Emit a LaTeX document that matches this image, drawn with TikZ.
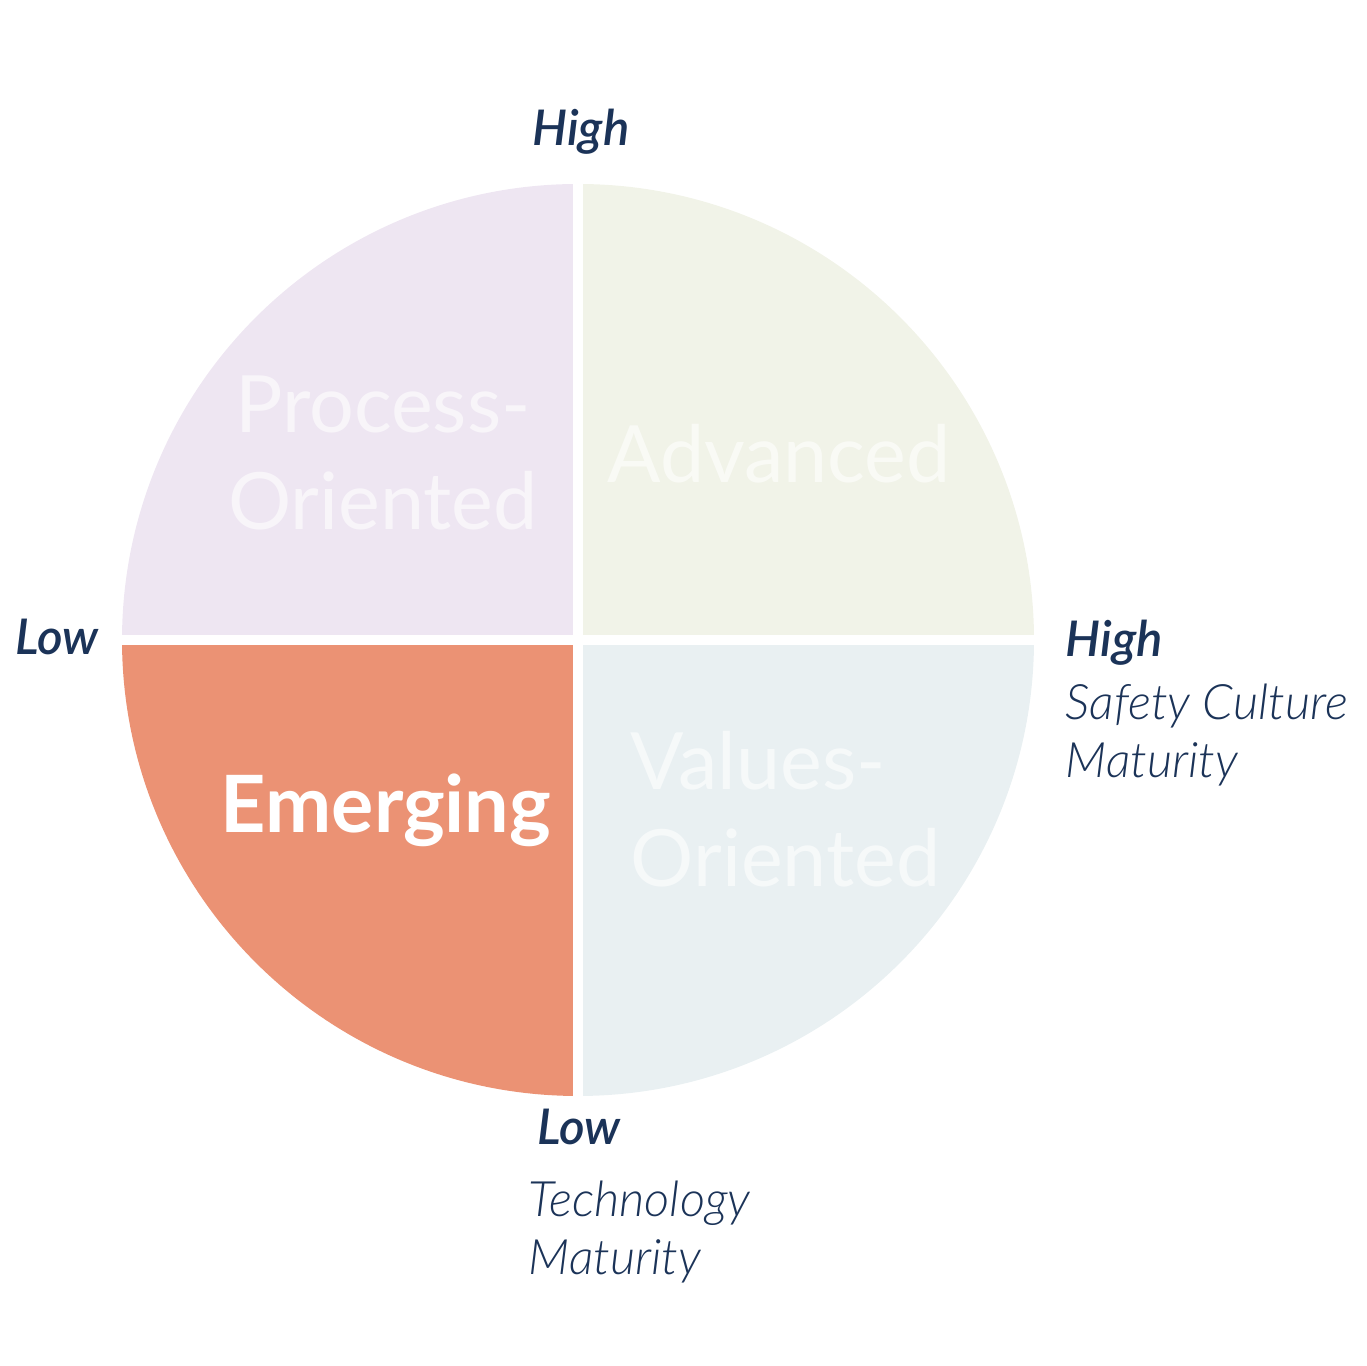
\documentclass[tikz,border=0pt]{standalone}
\usepackage{fontspec}
\setmainfont{Lato}
\newfontfamily\latolight{Lato Light}
\newfontfamily\latosemi{Lato Semibold}
\usepackage{tikz}
\usetikzlibrary{positioning}
\definecolor{navy}{HTML}{1B3358}
\definecolor{lavender}{HTML}{EEE6F2}
\definecolor{sage}{HTML}{F1F3E8}
\definecolor{mist}{HTML}{E9F0F2}
\definecolor{coral}{HTML}{EB9274}

\tikzset{
  axisbold/.style={text=navy,font=\latosemi\itshape\fontsize{14}{17}\selectfont,inner sep=0pt},
  axistitle/.style={text=navy,font=\latolight\itshape\fontsize{13.9}{16.6}\selectfont,inner sep=0pt,align=left},
  quadtext/.style={text=white,text opacity=.6,font=\fontsize{22.5}{27.6}\selectfont,inner sep=0pt}
}

\begin{document}
\begin{tikzpicture}[x=1cm,y=1cm]
  \useasboundingbox (0,0) rectangle (13.66,13.66);
  \coordinate (c) at (5.78,7.26);
  % quadrants
  \fill[lavender] (c) -- ++(180:4.56) arc (180:90:4.56) -- cycle;
  \fill[sage] (c) -- ++(90:4.56) arc (90:0:4.56) -- cycle;
  \fill[mist] (c) -- ++(0:4.56) arc (0:-90:4.56) -- cycle;
  \fill[coral] (c) -- ++(270:4.56) arc (270:180:4.56) -- cycle;
  \draw[white,line width=.1cm] (5.78,2.6) -- (5.78,11.92);
  \draw[white,line width=.1cm] (1.12,7.26) -- (10.44,7.26);
  \node[quadtext,align=center,anchor=base] (process) at (3.83,8.36) {Process-\\Oriented};
  \node[quadtext,anchor=base] (advanced) at (7.79,8.83) {Advanced};
  \node[quadtext,align=left,anchor=base west] (values) at (6.30,4.79) {Values-\\Oriented};
  \node[quadtext,text opacity=1,font=\bfseries\fontsize{22.5}{27.5}\selectfont,anchor=base] (emerging) at (3.86,5.33) {Emerging};
  % axis labels
  \node[axisbold,anchor=base] (topHigh) at (5.81,12.20) {High};
  \node[axisbold,anchor=base west] (leftLow) at (0.15,7.11) {Low};
  \node[axisbold,anchor=base west] (rightHigh) at (10.65,7.09) {High};
  \node[axistitle,anchor=base west] (cultureAxis) at (10.65,5.88) {Safety Culture\\Maturity};
  \node[axisbold,anchor=base west] (bottomLow) at (5.37,2.21) {Low};
  \node[axistitle,anchor=base west] (techAxis) at (5.28,0.91) {Technology\\Maturity};
\end{tikzpicture}
\end{document}
